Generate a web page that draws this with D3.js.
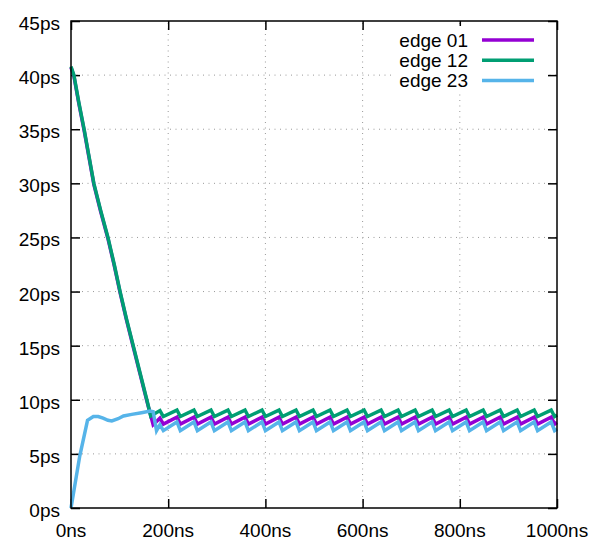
<!DOCTYPE html>
<html>
<head>
<meta charset="utf-8">
<script src="https://cdn.jsdelivr.net/npm/d3@7"></script>
<style>
body { margin: 0; background: white; }
text { font-family: "Liberation Sans", Arial, sans-serif; font-size: 19px; fill: #000; }
</style>
</head>
<body>
<div id="graph"></div>
<script>
const xTicks = [0, 200, 400, 600, 800, 1000];
const yTicks = [0, 5, 10, 15, 20, 25, 30, 35, 40, 45];
const seriesNames = ["edge 01", "edge 12", "edge 23"];
const seriesColors = ["#9400d3", "#009e73", "#56b4e9"];

// times (ns) where each sawtooth tooth peaks, then drops
const dropNs = [183, 218, 253, 288, 323, 358, 393, 428, 463, 498, 533, 568,
  603, 638, 673, 708, 743, 778, 813, 848, 883, 918, 953, 988];

// start of each curve, [ns, ps]
const edge01Head = [[0, 40.7], [6, 39.9], [16, 37.4], [27, 34.9], [37, 32.4], [47, 29.9], [61, 27.4],
  [76, 24.9], [89, 22.4], [101, 19.9], [114, 17.4], [128, 14.9], [142, 12.4], [156, 9.9], [169, 7.7]];
const edge12Head = [[0, 40.8], [6, 40.0], [16, 37.5], [27, 35.0], [37, 32.5], [47, 30.0], [61, 27.5],
  [76, 25.0], [89, 22.5], [101, 20.0], [114, 17.5], [128, 15.0], [142, 12.5], [156, 10.0], [164, 8.5]];
const edge23Head = [[0, 0], [18, 4.8], [34, 8.1], [46, 8.45], [56, 8.45], [66, 8.3], [76, 8.1], [84, 8.05],
  [97, 8.25], [108, 8.5], [125, 8.65], [145, 8.8], [163, 8.95], [169, 8.9], [176, 7.15]];

// value at each tooth top (before drop) and bottom (after drop)
const edge01Top = [8.3, 8.4, 8.4, 8.4, 8.4, 8.4, 8.4, 8.4, 8.4, 8.4, 8.4, 8.4,
  8.4, 8.4, 8.4, 8.4, 8.4, 8.4, 8.4, 8.4, 8.4, 8.4, 8.4, 8.4];
const edge01Bottom = [7.75, 7.75, 7.75, 7.75, 7.75, 7.75, 7.75, 7.75, 7.75, 7.75, 7.75, 7.75,
  7.75, 7.75, 7.75, 7.75, 7.75, 7.75, 7.75, 7.75, 7.75, 7.75, 7.75, 7.75];
const edge12Top = [9.0, 9.05, 9.05, 9.05, 9.05, 9.05, 9.05, 9.05, 9.05, 9.05, 9.05, 9.05,
  9.05, 9.05, 9.05, 9.05, 9.05, 9.05, 9.05, 9.05, 9.05, 9.05, 9.05, 9.05];
const edge12Bottom = [8.45, 8.45, 8.45, 8.45, 8.45, 8.45, 8.45, 8.45, 8.45, 8.45, 8.45, 8.45,
  8.45, 8.45, 8.45, 8.45, 8.45, 8.45, 8.45, 8.45, 8.45, 8.45, 8.45, 8.45];
const edge23Top = [7.7, 7.95, 7.95, 7.95, 7.95, 7.95, 7.95, 7.95, 7.95, 7.95, 7.95, 7.95,
  7.95, 7.95, 7.95, 7.95, 7.95, 7.95, 7.95, 7.95, 7.95, 7.95, 7.95, 7.95];
const edge23Bottom = [7.15, 7.15, 7.15, 7.15, 7.15, 7.15, 7.15, 7.15, 7.15, 7.15, 7.15, 7.15,
  7.15, 7.15, 7.15, 7.15, 7.15, 7.15, 7.15, 7.15, 7.15, 7.15, 7.15, 7.15];
// value at 1000ns
const tailPs = [7.9, 8.6, 7.3];

const fullwidth = 598;
const fullheight = 551;
const margin = {left: 71, right: 41, top: 21, bottom: 43};

var svg = d3.select("#graph").
append("svg").
attr("width", fullwidth).
attr("height", fullheight);

var x = d3.scaleLinear().domain([0, 1000]).range([margin.left, fullwidth - margin.right]);
var y = d3.scaleLinear().domain([0, 45]).range([fullheight - margin.bottom, margin.top]);

function buildSeries(head, top, bottom, tail) {
  var pts = head.slice();
  for (var k = 0; k < dropNs.length; ++k) {
    pts.push([dropNs[k], top[k]]);
    pts.push([dropNs[k] + 7, bottom[k]]);
  }
  pts.push([1000, tail]);
  return pts;
}

var series = [
  buildSeries(edge01Head, edge01Top, edge01Bottom, tailPs[0]),
  buildSeries(edge12Head, edge12Top, edge12Bottom, tailPs[1]),
  buildSeries(edge23Head, edge23Top, edge23Bottom, tailPs[2])
];

// dotted grid
var grid = svg.append("g").attr("class", "grid");
grid.selectAll(".gx").
data(xTicks.slice(1, -1)).
enter().append("line").
attr("x1", d => x(d)).
attr("x2", d => x(d)).
attr("y1", y(0)).
attr("y2", y(45)).
attr("stroke", "#999").
attr("stroke-width", 1).
attr("stroke-dasharray", "1,4.5");
grid.selectAll(".gy").
data(yTicks.slice(1, -1)).
enter().append("line").
attr("y1", d => y(d)).
attr("y2", d => y(d)).
attr("x1", x(0)).
attr("x2", x(1000)).
attr("stroke", "#999").
attr("stroke-width", 1).
attr("stroke-dasharray", "1,4.5");

// axes, ticks pointing inward, mirrored on top and right
var tickLen = 9;
var axisBottom = svg.append("g").
attr("transform", "translate(0," + y(0) + ")").
call(d3.axisTop(x).tickValues(xTicks).tickSize(tickLen).tickFormat(""));
var axisTop = svg.append("g").
attr("transform", "translate(0," + y(45) + ")").
call(d3.axisBottom(x).tickValues(xTicks).tickSize(tickLen).tickFormat(""));
var axisLeft = svg.append("g").
attr("transform", "translate(" + x(0) + ",0)").
call(d3.axisRight(y).tickValues(yTicks).tickSize(tickLen).tickFormat(""));
var axisRight = svg.append("g").
attr("transform", "translate(" + x(1000) + ",0)").
call(d3.axisLeft(y).tickValues(yTicks).tickSize(tickLen).tickFormat(""));
[axisBottom, axisTop, axisLeft, axisRight].forEach(function (a) {
  a.select(".domain").remove();
  a.selectAll("line").attr("stroke", "#000").attr("stroke-width", 1.5);
});

// tick labels
svg.selectAll(".xlabel").
data(xTicks).
enter().append("text").
attr("x", d => x(d)).
attr("y", y(0) + 29).
attr("text-anchor", "middle").
text(d => d + "ns");
svg.selectAll(".ylabel").
data(yTicks).
enter().append("text").
attr("x", x(0) - 11).
attr("y", d => y(d) + 9).
attr("text-anchor", "end").
text(d => d + "ps");

// legend with opaque background
var legend = svg.append("g").attr("class", "legend");
legend.append("rect").
attr("x", 392).
attr("y", 26).
attr("width", 154).
attr("height", 67).
attr("fill", "white");

// curves
var line = d3.line().x(d => x(d[0])).y(d => y(d[1]));
svg.selectAll(".curve").
data(series).
enter().append("path").
attr("class", "curve").
attr("fill", "none").
attr("stroke", (d, i) => seriesColors[i]).
attr("stroke-width", 3.5).
attr("stroke-linejoin", "miter").
attr("d", line);

// frame
svg.append("rect").
attr("x", x(0)).
attr("y", y(45)).
attr("width", x(1000) - x(0)).
attr("height", y(0) - y(45)).
attr("fill", "none").
attr("stroke", "#000").
attr("stroke-width", 1.5);

var legendRows = legend.selectAll(".row").
data(seriesNames).
enter().append("g").
attr("transform", (d, i) => "translate(0," + (40 + i * 20.2) + ")");
legendRows.append("text").
attr("x", 468).
attr("y", 6.5).
attr("text-anchor", "end").
text(d => d);
legendRows.append("line").
attr("x1", 482).
attr("x2", 534).
attr("stroke", (d, i) => seriesColors[i]).
attr("stroke-width", 3.5);
</script>
</body>
</html>
